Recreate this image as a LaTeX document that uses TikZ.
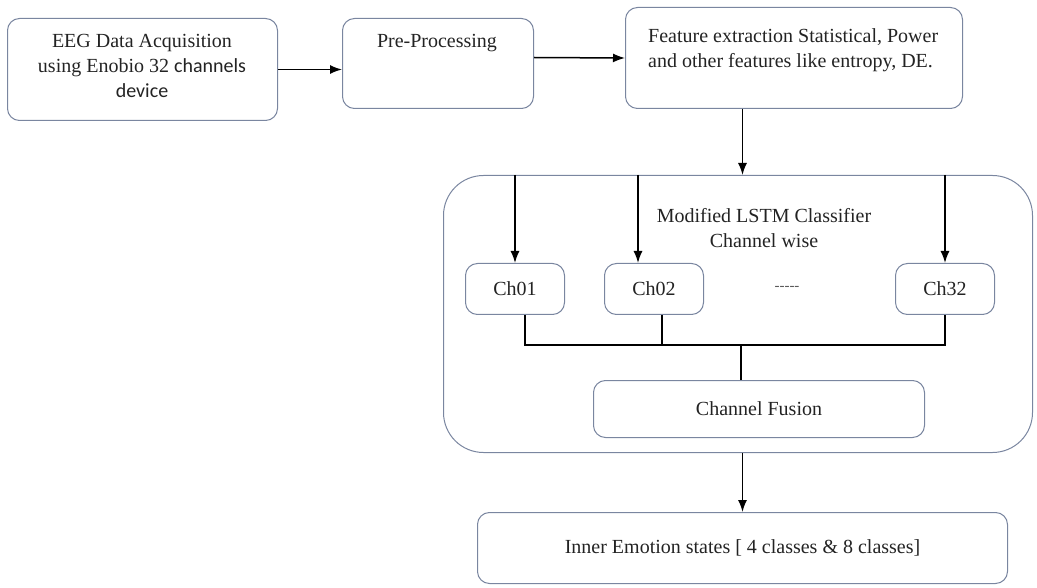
\documentclass[tikz,border=0pt]{standalone}
\usepackage{fontspec}
\setmainfont{Liberation Serif}
\newfontfamily\calibri{Carlito}
\usetikzlibrary{arrows.meta,positioning}
\definecolor{boxline}{RGB}{122,134,160}
\definecolor{inktext}{RGB}{35,35,35}

\begin{document}
\begin{tikzpicture}[
                    x=1pt, y=-1pt,
                    location/.style={
                        rectangle,
                        draw=boxline,
                        line width=1pt,
                        rounded corners=12pt,
                        anchor=north west,
                        inner sep=0pt,
                        text=inktext,
                        font=\fontsize{20}{25}\selectfont
                    },
                    caption/.style={
                        text=inktext,
                        inner sep=0pt,
                        align=center,
                        font=\fontsize{20}{25}\selectfont
                    },
                    flow/.style={-{Latex[length=12pt,width=9pt]}, line width=1.5pt},
                    wire/.style={line width=1.2pt}
                ]
                \useasboundingbox (0,0) rectangle (1037,588);

                % processing chain along the top
                \node (eeg) [location, minimum width=270pt, minimum height=102pt] at (7,18) {};
                \node [caption] at (142,66) {EEG Data Acquisition\\using Enobio 32 {\calibri channels}\\{\calibri device}};

                \node (pre) [location, minimum width=191pt, minimum height=90pt] at (342,18) {};
                \node [caption] at (437,43) {Pre-Processing};

                \node (feature) [location, minimum width=337pt, minimum height=101pt] at (625,7) {};
                \node [caption, align=left, anchor=west] at (648,50) {Feature extraction Statistical, Power\\and other features like entropy, DE.};

                % channel wise classifier block
                \node (lstm) [location, rounded corners=40pt, minimum width=589pt, minimum height=277pt] at (443,175) {};
                \node [caption] at (764,228) {Modified LSTM Classifier\\Channel wise};

                \node (ch01) [location, minimum width=99pt, minimum height=51pt] at (465,263) {Ch01};
                \node (ch02) [location, minimum width=99pt, minimum height=51pt, right=39pt of ch01] {Ch02};
                \node (ch32) [location, minimum width=99pt, minimum height=51pt, right=191pt of ch02] {Ch32};
                \node (dots) [caption, text=inktext!75, font=\fontsize{15}{16}\selectfont] at (787,288) {{-}{-}{-}{-}{-}};

                \node (fusion) [location, minimum width=331pt, minimum height=57pt] at (593,380) {Channel Fusion};

                \node (inner) [location, minimum width=530pt, minimum height=71pt] at (477,512) {\raisebox{-6pt}{Inner Emotion states [ 4 classes \& 8 classes]}};

                \coordinate (bus) at (741,345);
                \coordinate (ch02in) at ([xshift=-16pt]ch02.north);

                \draw [flow] (eeg.east) -- (eeg.east -| pre.west);
                \draw [flow] ([yshift=6pt]pre.east) -- (feature.west);
                \draw [flow] (feature.south -| inner.north) -- (lstm.north -| inner.north);

                \draw [flow] (lstm.north -| ch01.north) -- (ch01.north);
                \draw [flow] (lstm.north -| ch02in) -- (ch02in);
                \draw [flow] (lstm.north -| ch32.north) -- (ch32.north);

                \draw [wire] ([xshift=10pt]ch01.south) |- (bus -| ch32.south) -- (ch32.south);
                \draw [wire] ([xshift=8pt]ch02.south) -- ([xshift=8pt]ch02.south |- bus);
                \draw [wire] (bus) -- (bus |- fusion.north);

                \draw [flow] (lstm.south -| inner.north) -- (inner.north);
            \end{tikzpicture}
\end{document}
